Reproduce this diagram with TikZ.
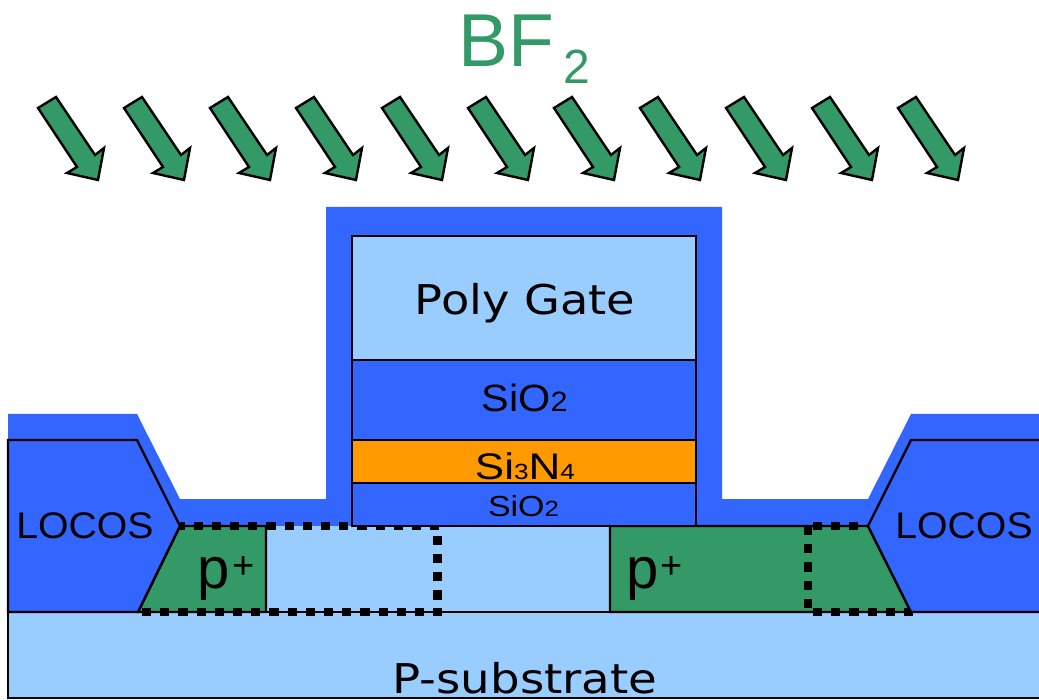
\documentclass[tikz,border=0pt]{standalone}
\usepackage{fontspec}
\setmainfont{DejaVu Sans}
\newfontfamily\lib{Liberation Sans}
\definecolor{oxide}{HTML}{3366FF}
\definecolor{light}{HTML}{99CCFF}
\definecolor{pgreen}{HTML}{339966}
\definecolor{nitride}{HTML}{FF9900}
\tikzset{
  x=1pt,y=-1pt,
  layer/.style={draw=black,line width=2.4pt,line join=miter},
  dots/.style={draw=black,line width=8.5pt,dash pattern=on 9.1pt off 9.1pt},
  arrowshape/.style={draw=black,fill=pgreen,line width=2.4pt,line join=miter},
  txt/.style={inner sep=0pt,anchor=base,text=black},
  txtw/.style={inner sep=0pt,anchor=base west,text=black},
}
\newcommand{\implant}[1]{\draw[arrowshape,shift={(#1,0)}] (38,108) -- (56,97) -- (95,155) -- (104,148) -- (98,180) -- (67,173) -- (77,167) -- cycle;}
\newcommand{\wide}[2]{\scalebox{#1}[1]{#2}}
\newcommand{\lowered}[2]{\raisebox{0pt}{\fontsize{#1}{#1}\selectfont #2}}
\newcommand{\pplus}{p\kern2.5pt\raisebox{10pt}{\fontsize{38}{38}\selectfont +}}
\begin{document}
\begin{tikzpicture}
\useasboundingbox (0,0) rectangle (1039,700);
% deposited oxide
\fill[oxide] (8,414) -- (137,414) -- (180,499) -- (326,499) -- (326,207) -- (722,207) -- (722,499) -- (868,499) -- (911,414) -- (1039,414) -- (1039,530) -- (8,530) -- cycle;
% substrate
\fill[light] (180,526) rectangle (868,612);
\draw[layer,fill=light] (1045,612) -- (8,612) -- (8,698) -- (1045,698);
% junctions
\draw[layer,fill=pgreen] (180,526) -- (266,526) -- (266,612) -- (138,612) -- cycle;
\draw[layer,fill=pgreen] (610,526) -- (868,526) -- (911,612) -- (610,612) -- cycle;
% implant outlines
\draw[dots] (142,612) -- (442,612);
\draw[dots] (437.7,599.5) -- (437.7,535);
\draw[dots] (439.3,526) -- (180,526);
\draw[dots] (858,526) -- (812,526);
\draw[dots] (808,526) -- (808,609);
\draw[dots] (813,612) -- (914,612);
% locos
\draw[layer,fill=oxide] (8,440) -- (137,440) -- (180,526) -- (138,612) -- (8,612) -- cycle;
\draw[layer,fill=oxide] (1045,440) -- (911,440) -- (868,526) -- (911,612) -- (1045,612);
\draw[layer] (352,526) -- (868,526);
% gate stack
\draw[layer,fill=light] (352,236) rectangle (696,360);
\draw[layer,fill=oxide] (352,360) rectangle (696,440);
\draw[layer,fill=nitride] (352,440) rectangle (696,483);
\draw[layer,fill=oxide] (352,483) rectangle (696,526);
% arrows
\foreach \dx in {0,86,...,860} {\implant{\dx}}
% labels
\node[txtw,text=pgreen,font=\lib\fontsize{75}{75}\selectfont] (ion) at (458,67) {BF\kern9pt\raisebox{-17pt}{\fontsize{48}{48}\selectfont 2}};
\node[txt,font=\fontsize{41}{41}\selectfont] (poly) at (525,315) {\wide{1.13}{Poly Gate}};
\node[txt,font=\lib\fontsize{38}{38}\selectfont] (ox1) at (524.5,412) {\wide{1.09}{SiO\lowered{28}{2}}};
\node[txt,font=\lib\fontsize{37}{37}\selectfont] (nit) at (525,479) {\wide{1.19}{Si\lowered{22}{3}N\lowered{22}{4}}};
\node[txt,font=\lib\fontsize{29}{29}\selectfont] (ox2) at (523.5,516) {\wide{1.17}{SiO\lowered{22}{2}}};
\node[txt,font=\lib\fontsize{37}{37}\selectfont] (l1) at (85,538) {\wide{1.06}{LOCOS}};
\node[txt,font=\lib\fontsize{37}{37}\selectfont] (l2) at (964,538) {\wide{1.06}{LOCOS}};
\node[txtw,font=\lib\fontsize{58}{58}\selectfont] (p1) at (197.5,588) {\pplus};
\node[txtw,font=\lib\fontsize{58}{58}\selectfont] (p2) at (626,588) {\pplus};
\node[txt,font=\fontsize{41}{41}\selectfont] (sub) at (525,693) {\wide{1.138}{P-substrate}};
\end{tikzpicture}
\end{document}
